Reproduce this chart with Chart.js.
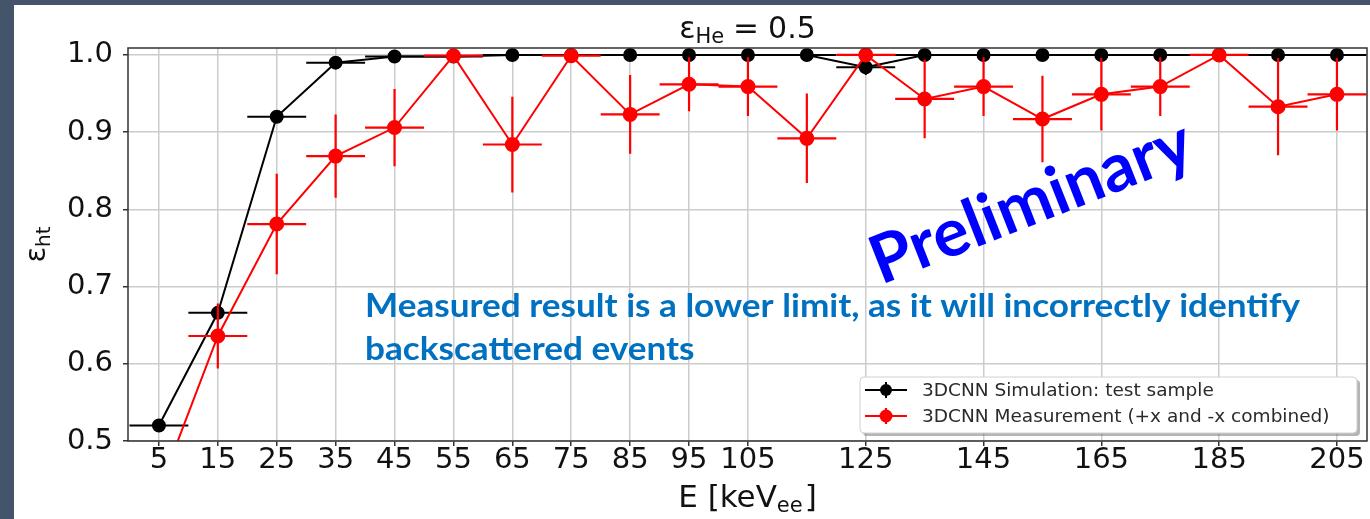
<!DOCTYPE html>
<html>
<head>
<meta charset="utf-8">
<script src="https://cdn.jsdelivr.net/npm/chart.js@4.4.1/dist/chart.umd.min.js"></script>
<style>
  html, body { margin: 0; padding: 0; background: #fff; }
  canvas { display: block; }
</style>
</head>
<body>
<canvas id="eff" width="1370" height="519"></canvas>
<script>
// energy bin centres and half widths, keV_ee
const energies  = [5, 15, 25, 35, 45, 55, 65, 75, 85, 95, 105, 115, 125, 135, 145, 155, 165, 175, 185, 195, 205];
const energyErr = [5, 5, 5, 5, 5, 5, 5, 5, 5, 5, 5, 5, 5, 5, 5, 5, 5, 5, 5, 5, 5];

// head-tail efficiency, simulation test sample
const simEff = [0.52, 0.666, 0.92, 0.99, 0.998, 0.998, 1.0, 1.0, 1.0, 1.0, 1.0, 1.0, 0.984, 1.0, 1.0, 1.0, 1.0, 1.0, 1.0, 1.0, 1.0];
const simErr = [0, 0, 0, 0, 0, 0, 0, 0, 0, 0, 0, 0, 0.01, 0, 0, 0, 0, 0, 0, 0, 0];

// head-tail efficiency, measurement (+x and -x combined)
const measEff = [0.436, 0.636, 0.781, 0.869, 0.906, 0.999, 0.884, 0.999, 0.923, 0.962, 0.959, 0.892, 1.0, 0.943, 0.959, 0.917, 0.949, 0.959, 1.0, 0.933, 0.949];
const measErr = [0.05, 0.042, 0.065, 0.054, 0.05, 0, 0.062, 0, 0.051, 0.035, 0.038, 0.058, 0, 0.051, 0.038, 0.056, 0.047, 0.038, 0, 0.063, 0.047];

const xTicks = [5, 15, 25, 35, 45, 55, 65, 75, 85, 95, 105, 125, 145, 165, 185, 205];
const yTicks = [0.5, 0.6, 0.7, 0.8, 0.9, 1.0];

const seriesNames = ['3DCNN Simulation: test sample', '3DCNN Measurement (+x and -x combined)'];

Chart.defaults.font.family = 'DejaVu Sans';

function points(ys) {
  return energies.map((e, i) => ({ x: e, y: ys[i] }));
}

// slate frame behind the white slide area
const frame = {
  id: 'frame',
  beforeDraw(chart) {
    const ctx = chart.ctx;
    ctx.save();
    ctx.fillStyle = '#44546a';
    ctx.fillRect(0, 0, chart.width, chart.height);
    ctx.fillStyle = '#ffffff';
    ctx.fillRect(14, 5, chart.width - 14, chart.height - 5);
    ctx.restore();
  }
};

// x and y error bars, drawn under each series
const errorBars = {
  id: 'errorBars',
  beforeDatasetDraw(chart, args) {
    const ds = chart.data.datasets[args.index];
    const xs = chart.scales.x, ys = chart.scales.y, a = chart.chartArea;
    const ctx = chart.ctx;
    ctx.save();
    ctx.beginPath();
    ctx.rect(a.left, a.top, a.right - a.left, a.bottom - a.top);
    ctx.clip();
    ctx.strokeStyle = ds.borderColor;
    ctx.lineWidth = ds.errWidth;
    ds.data.forEach((p, i) => {
      const px = xs.getPixelForValue(p.x), py = ys.getPixelForValue(p.y);
      ctx.beginPath();
      ctx.moveTo(xs.getPixelForValue(p.x - ds.xErr[i]), py);
      ctx.lineTo(xs.getPixelForValue(p.x + ds.xErr[i]), py);
      if (ds.yErr[i] > 0) {
        ctx.moveTo(px, ys.getPixelForValue(p.y - ds.yErr[i]));
        ctx.lineTo(px, ys.getPixelForValue(p.y + ds.yErr[i]));
      }
      ctx.stroke();
    });
    ctx.restore();
  }
};

// text with lowered subscript parts; pre/post add space around a part
function subText(ctx, parts, cx, base) {
  const widths = parts.map(p => {
    ctx.font = p.size + 'px "DejaVu Sans"';
    return ctx.measureText(p.t).width + (p.pre || 0) + (p.post || 0);
  });
  let x = cx - widths.reduce((s, w) => s + w, 0) / 2;
  parts.forEach((p, i) => {
    ctx.font = p.size + 'px "DejaVu Sans"';
    ctx.fillText(p.t, x + (p.pre || 0), base + (p.sub ? 5 : 0));
    x += widths[i];
  });
}

const decorations = {
  id: 'decorations',
  afterDatasetsDraw(chart) {
    const ctx = chart.ctx, a = chart.chartArea;
    ctx.save();
    // axes box
    ctx.strokeStyle = '#333';
    ctx.lineWidth = 1.5;
    ctx.strokeRect(a.left, a.top, a.right - a.left, a.bottom - a.top);

    // title and axis labels
    ctx.fillStyle = '#111';
    ctx.textBaseline = 'alphabetic';
    ctx.textAlign = 'left';
    const mid = (a.left + a.right) / 2;
    subText(ctx, [{ t: 'ε', size: 30 }, { t: 'He', size: 21, sub: true },
                  { t: '=', size: 31, pre: 9, post: 9 }, { t: '0.5', size: 30 }], mid, 38);
    subText(ctx, [{ t: 'E [keV', size: 31 }, { t: 'ee', size: 21, sub: true }, { t: ']', size: 31, pre: 2 }], mid, 507);
    ctx.save();
    ctx.translate(45, (a.top + a.bottom) / 2);
    ctx.rotate(-Math.PI / 2);
    subText(ctx, [{ t: 'ε', size: 29 }, { t: 'ht', size: 20, sub: true }], 0, 0);
    ctx.restore();

    // note on the measurement
    ctx.fillStyle = '#0070c0';
    ctx.font = 'bold 32px Lato';
    const l1 = 'Measured result is a lower limit, as it will incorrectly identify';
    const l2 = 'backscattered events';
    const sx = 935 / ctx.measureText(l1).width;
    ctx.save();
    ctx.translate(365, 317);
    ctx.scale(sx, 1);
    ctx.fillText(l1, 0, 0);
    ctx.fillText(l2, 0, 43);
    ctx.restore();

    // watermark
    ctx.save();
    ctx.fillStyle = '#0000ff';
    ctx.font = 'bold 67px Lato';
    ctx.translate(881, 285);
    ctx.rotate(-21.5 * Math.PI / 180);
    ctx.fillText('Preliminary', 0, 0);
    ctx.restore();
    ctx.restore();
  },
  afterDraw(chart) {
    const ctx = chart.ctx;
    const L = 860, T = 377, W = 497, H = 56;
    ctx.save();
    // legend frame with shadow
    ctx.fillStyle = 'rgba(120,120,120,0.55)';
    ctx.beginPath();
    ctx.roundRect(L + 3, T + 3, W, H, 4);
    ctx.fill();
    ctx.fillStyle = '#fff';
    ctx.strokeStyle = '#d0d0d0';
    ctx.lineWidth = 1;
    ctx.beginPath();
    ctx.roundRect(L, T, W, H, 4);
    ctx.fill();
    ctx.stroke();

    ctx.font = '18.5px "DejaVu Sans"';
    ctx.textBaseline = 'alphabetic';
    chart.data.datasets.slice().sort((p, q) => q.order - p.order).forEach((ds, i) => {
      const y = T + 13 + i * 26;
      ctx.strokeStyle = ds.borderColor;
      ctx.lineWidth = ds.errWidth;
      ctx.beginPath();
      ctx.moveTo(865, y); ctx.lineTo(907, y);
      ctx.moveTo(886, y - 8); ctx.lineTo(886, y + 8);
      ctx.stroke();
      ctx.fillStyle = ds.borderColor;
      ctx.beginPath();
      ctx.arc(886, y, ds.pointRadius, 0, Math.PI * 2);
      ctx.fill();
      ctx.fillStyle = '#2a2a2a';
      ctx.fillText(ds.label, 922, y + 6);
    });
    ctx.restore();
  }
};

new Chart(document.getElementById('eff'), {
  type: 'scatter',
  data: {
    datasets: [
      {
        label: seriesNames[0],
        data: points(simEff),
        xErr: energyErr,
        yErr: simErr,
        showLine: true,
        borderColor: '#000000',
        backgroundColor: '#000000',
        borderWidth: 2,
        errWidth: 2,
        pointRadius: 6,
        pointHoverRadius: 6,
        clip: 0,
        order: 2
      },
      {
        label: seriesNames[1],
        data: points(measEff),
        xErr: energyErr,
        yErr: measErr,
        showLine: true,
        borderColor: '#ff0000',
        backgroundColor: '#ff0000',
        borderWidth: 2,
        errWidth: 2.2,
        pointRadius: 6.5,
        pointHoverRadius: 6.5,
        clip: 0,
        order: 1
      }
    ]
  },
  options: {
    responsive: false,
    animation: false,
    events: [],
    layout: { autoPadding: false, padding: { left: 14, top: 48, right: 3, bottom: 0 } },
    plugins: { legend: { display: false }, tooltip: { enabled: false } },
    scales: {
      x: {
        type: 'linear',
        min: -0.25,
        max: 210.1,
        afterFit(s) { s.height = 78; },
        afterBuildTicks(s) { s.ticks = xTicks.map(v => ({ value: v })); },
        border: { display: false },
        grid: { color: '#cccccc', lineWidth: 1.5, tickColor: '#333', tickLength: 5 },
        ticks: { color: '#111', font: { size: 29, lineHeight: 1 }, padding: 0, maxRotation: 0, autoSkip: false }
      },
      y: {
        min: 0.5,
        max: 1.009,
        afterFit(s) { s.width = 114; },
        afterBuildTicks(s) { s.ticks = yTicks.map(v => ({ value: v })); },
        border: { display: false },
        grid: { color: '#cccccc', lineWidth: 1.5, tickColor: '#333', tickLength: 5 },
        ticks: { color: '#111', font: { size: 29 }, padding: 10, callback: v => v.toFixed(1) }
      }
    }
  },
  plugins: [frame, errorBars, decorations]
});
</script>
</body>
</html>
